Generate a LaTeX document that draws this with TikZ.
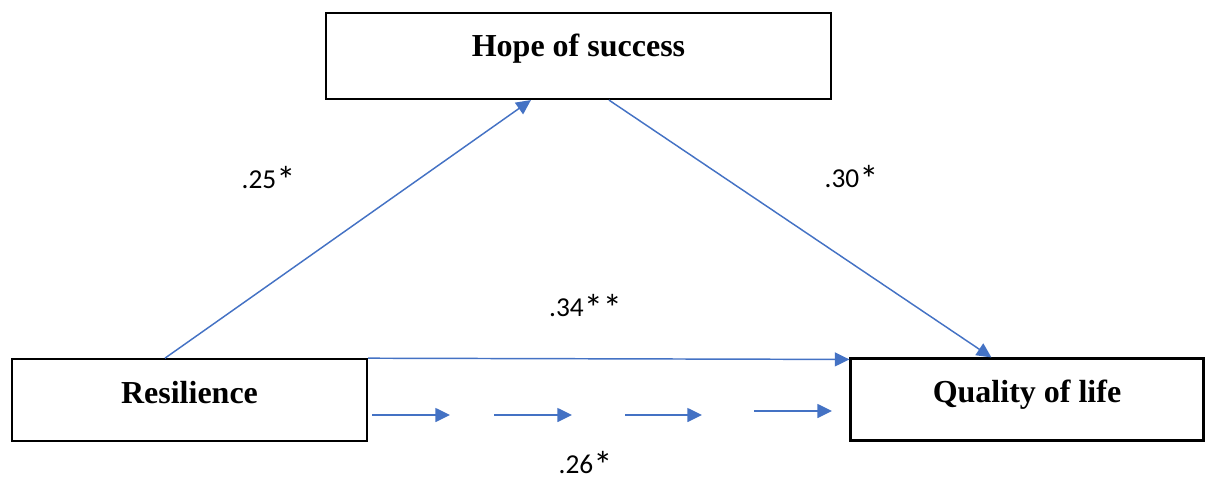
\documentclass[tikz,border=0pt]{standalone}
\usepackage{fontspec}
\setmainfont{Liberation Serif}
\newfontfamily\coeffont{Carlito}
\usepackage{tikz}
\usetikzlibrary{calc, arrows.meta}
\definecolor{pathblue}{RGB}{68, 114, 196}
\newcommand{\sig}{\raisebox{-0.45ex}[\height][0pt]{\scalebox{1.4}{*}}}
\tikzset{
  varbox/.style={draw, line width=1.6pt, inner xsep=0pt, inner ysep=0pt,
    text height=33pt, font=\fontsize{24}{28}\selectfont\bfseries},
  link/.style={pathblue, line width=1.1pt, -{Triangle[length=11pt, width=10.5pt]}},
  coef/.style={anchor=base, inner sep=0.5pt, font=\coeffont\fontsize{20.5}{24}\selectfont}
}

\begin{document}
\begin{tikzpicture}[x=0.75pt, y=-0.75pt]
\useasboundingbox (0,0) rectangle (1209,481);
% variables
\node[varbox, minimum width=378.75pt, text depth=31.5pt] (hope) at (578.5,56) {Hope of success};
\node[varbox, minimum width=266.25pt, text depth=28.1pt] (res) at (189.5,400) {Resilience};
\node[varbox, minimum width=264.75pt, text depth=28.5pt] (qol) at (1027,399.5) {Quality of life};
% paths
\draw[link] ($(res.north west)+(154,0)$) -- ($(hope.south west)+(206,0)$);
\draw[link] ($(hope.south west)+(284,0)$) -- ($(qol.north west)+(142,0)$);
\draw[link] (res.north east) -- ($(qol.north west)+(0,2)$);
\foreach \a/\b/\y [count=\i] in {372/450/415, 494/572/415, 625/702/415, 754/832/411} {
  \coordinate (ds\i) at (\a,\y);
  \coordinate (de\i) at (\b,\y);
  \draw[link] (ds\i) -- (de\i);
}
% coefficients
\node[coef] (a) at (268.5,188) {.25\sig};
\node[coef] (b) at (851.5,187) {.30\sig};
\node[coef] (c) at (585.5,316) {.34\sig\sig};
\node[coef] (cp) at (585.5,473) {.26\sig};
\end{tikzpicture}
\end{document}
